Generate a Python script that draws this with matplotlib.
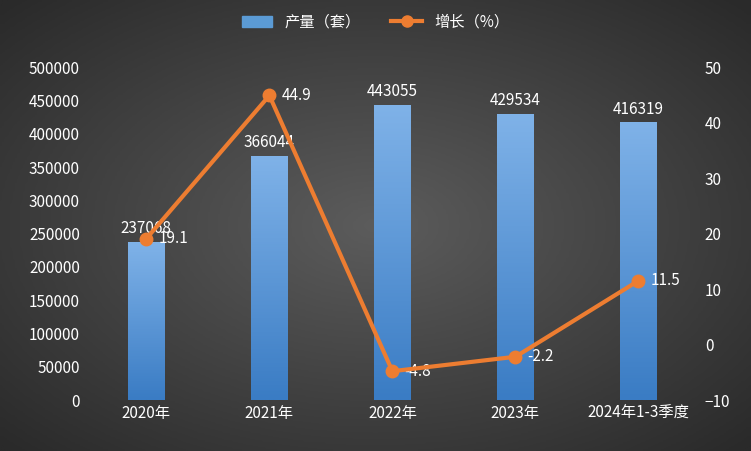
import numpy as np
import matplotlib
matplotlib.use("Agg")
import matplotlib.pyplot as plt
from matplotlib.patches import Rectangle
from matplotlib.lines import Line2D

plt.rcParams['font.family'] = ['Noto Sans CJK SC', 'DejaVu Sans']

categories = ["2020年", "2021年", "2022年", "2023年", "2024年1-3季度"]
output = [237068, 366044, 443055, 429534, 416319]
growth = [19.1, 44.9, -4.8, -2.2, 11.5]

fig = plt.figure(figsize=(7.51, 4.51), dpi=100)

# dark radial background
bg = fig.add_axes([0, 0, 1, 1], zorder=-10)
yy, xx = np.mgrid[-1:1:200j, -1:1:300j]
r = np.sqrt(xx ** 2 + yy ** 2)
bg.imshow(r, cmap=matplotlib.colors.LinearSegmentedColormap.from_list("bg", ["#5c5c5c", "#2a2a2a"]),
          aspect="auto", extent=[0, 1, 0, 1], vmin=0, vmax=1.4)
bg.axis("off")

ax = fig.add_axes([0.113, 0.113, 0.819, 0.738])
ax.set_facecolor("none")
x = np.arange(len(categories))
w = 0.3
bar_cmap = matplotlib.colors.LinearSegmentedColormap.from_list("bar", ["#3a7cc4", "#7fb2e8"])
grad = np.linspace(0, 1, 100).reshape(-1, 1)
for xi, v in zip(x, output):
    ax.imshow(grad, cmap=bar_cmap, aspect="auto", origin="lower",
              extent=[xi - w / 2, xi + w / 2, 0, v], zorder=2)
    ax.text(xi, v + 8000, str(v), ha="center", va="bottom", color="white", fontsize=11, zorder=5)
ax.set_xlim(-0.5, len(categories) - 0.5)
ax.set_ylim(0, 500000)
ax.set_yticks(np.arange(0, 500001, 50000))
ax.set_xticks(x)
ax.set_xticklabels(categories)
ax.tick_params(colors="white", labelsize=11, length=0)
for s in ax.spines.values():
    s.set_visible(False)

ax2 = ax.twinx()
ax2.plot(x, growth, color="#ed7d31", lw=3, marker="o", ms=9, zorder=4)
for xi, g in zip(x, growth):
    ax2.text(xi + 0.1, g, f"{g}", ha="left", va="center", color="white", fontsize=11)
ax2.set_ylim(-10, 50)
ax2.set_yticks(np.arange(-10, 51, 10))
ax2.tick_params(colors="white", labelsize=11, length=0)
for s in ax2.spines.values():
    s.set_visible(False)

handles = [Rectangle((0, 0), 1, 1, color="#5b9bd5"),
           Line2D([0], [0], color="#ed7d31", lw=3, marker="o", ms=8)]
fig.legend(handles, ["产量（套）", "增长（%）"], loc="upper center", bbox_to_anchor=(0.5, 1.0),
           ncol=2, frameon=False, labelcolor="white", fontsize=11)

fig.savefig("out.png", dpi=100)
